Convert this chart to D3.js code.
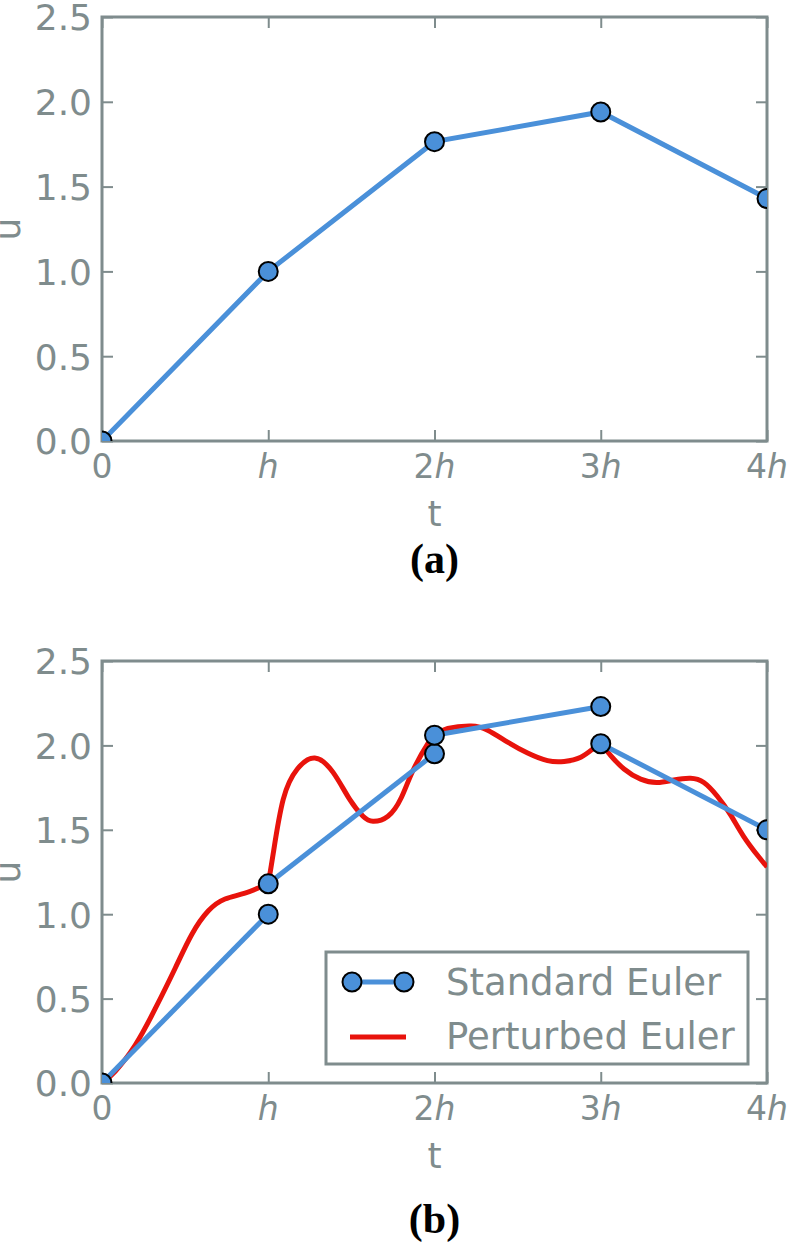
<!DOCTYPE html>
<html>
<head>
  <meta charset="utf-8">
  <title>Standard and perturbed Euler</title>
  <script src="https://d3js.org/d3.v7.min.js"></script>
  <style>
    body { margin: 0; background: #fff; }
    text { font-family: "DejaVu Sans", sans-serif; }
    text.caption { font-family: "Liberation Serif", "Times New Roman", serif; font-weight: bold; }
  </style>
</head>
<body>
  <svg id="chart"></svg>

  <script>
    // Data
    const stepLabels = ["0", "h", "2h", "3h", "4h"];
    const steps = [0, 1, 2, 3, 4];
    const yTicks = [0.0, 0.5, 1.0, 1.5, 2.0, 2.5];

    // panel (a): plain Euler
    const eulerA = [0, 1.0, 1.765, 1.94, 1.43];

    // panel (b): Euler steps started from the perturbed value
    const stepStartT = [0, 1, 2, 3];
    const stepStartU = [0, 1.18, 2.06, 2.01];
    const stepEndU = [1.0, 1.95, 2.23, 1.50];

    // panel (b): perturbed solution
    const perturbedT = [0, 0.08, 0.2, 0.32, 0.44, 0.54, 0.64, 0.74, 0.86, 1.0,
      1.0, 1.03, 1.09, 1.175, 1.28, 1.39, 1.49, 1.57, 1.63, 1.72, 1.8, 1.87, 1.96, 2.0,
      2.0, 2.08, 2.22, 2.32, 2.44, 2.56, 2.68, 2.78, 2.88, 2.96, 3.0,
      3.0, 3.06, 3.14, 3.24, 3.34, 3.44, 3.54, 3.62, 3.7, 3.78, 3.86, 3.95, 4.0];
    const perturbedU = [0, 0.07, 0.225, 0.44, 0.68, 0.88, 1.02, 1.09, 1.125, 1.18,
      1.18, 1.36, 1.68, 1.86, 1.925, 1.84, 1.68, 1.58, 1.55, 1.58, 1.69, 1.85, 2.01, 2.06,
      2.06, 2.1, 2.115, 2.09, 2.02, 1.955, 1.91, 1.905, 1.93, 1.985, 2.01,
      2.01, 1.94, 1.86, 1.80, 1.78, 1.795, 1.805, 1.78, 1.70, 1.59, 1.46, 1.34, 1.28];

    const gray = "#7f8c8d";
    const blue = "#4a90d9";
    const red = "#e8130c";

    const svg = d3.select("#chart")
      .attr("width", 790)
      .attr("height", 1243);

    const x = d3.scaleLinear().domain([0, 4]).range([102, 767]);

    function panel(top, bottom, id, caption, captionY) {
      const y = d3.scaleLinear().domain([0, 2.5]).range([bottom, top]);
      const g = svg.append("g");

      g.append("clipPath").attr("id", id)
        .append("rect")
        .attr("x", x(0)).attr("y", top)
        .attr("width", x(4) - x(0)).attr("height", bottom - top);

      // ticks on all four sides, pointing inward
      const axes = [
        [d3.axisBottom(x).tickValues(steps).tickSize(-11), `translate(0,${bottom})`],
        [d3.axisTop(x).tickValues(steps).tickSize(-11), `translate(0,${top})`],
        [d3.axisLeft(y).tickValues(yTicks).tickSize(-11), `translate(${x(0)},0)`],
        [d3.axisRight(y).tickValues(yTicks).tickSize(-11), `translate(${x(4)},0)`]
      ];
      axes.forEach(([ax, tr]) => {
        const a = g.append("g").attr("transform", tr).call(ax.tickFormat(""));
        a.select(".domain").remove();
        a.selectAll("line").attr("stroke", gray).attr("stroke-width", 2);
      });

      // y tick labels
      g.selectAll(".ylab")
        .data(yTicks)
        .enter()
        .append("text")
        .attr("x", 92)
        .attr("y", (d) => y(d))
        .attr("dy", "0.37em")
        .attr("text-anchor", "end")
        .attr("font-size", 36)
        .attr("fill", gray)
        .text((d) => d.toFixed(1));

      // x tick labels with italic h
      const xl = g.selectAll(".xlab")
        .data(stepLabels)
        .enter()
        .append("text")
        .attr("x", (d, i) => x(steps[i]))
        .attr("y", bottom + 37)
        .attr("text-anchor", "middle")
        .attr("font-size", 33)
        .attr("fill", gray);
      xl.append("tspan").text((d) => d.replace("h", ""));
      xl.append("tspan").attr("font-style", "italic").text((d) => d.includes("h") ? "h" : "");

      // axis titles
      g.append("text")
        .attr("x", x(2))
        .attr("y", bottom + 85)
        .attr("text-anchor", "middle")
        .attr("font-size", 36)
        .attr("fill", gray)
        .text("t");
      g.append("text")
        .attr("transform", `translate(20,${(top + bottom) / 2}) rotate(-90)`)
        .attr("text-anchor", "middle")
        .attr("font-size", 36)
        .attr("fill", gray)
        .text("u");

      // caption
      g.append("text")
        .attr("class", "caption")
        .attr("x", x(2))
        .attr("y", captionY)
        .attr("text-anchor", "middle")
        .attr("font-size", 42)
        .attr("fill", "#000")
        .text(caption);

      // frame
      g.append("rect")
        .attr("x", x(0)).attr("y", top)
        .attr("width", x(4) - x(0)).attr("height", bottom - top)
        .attr("fill", "none")
        .attr("stroke", gray)
        .attr("stroke-width", 3);

      const plot = g.append("g").attr("clip-path", `url(#${id})`);
      return { y, plot };
    }

    function markers(plot, pts, y) {
      plot.selectAll(null)
        .data(pts)
        .enter()
        .append("circle")
        .attr("cx", (d) => x(d[0]))
        .attr("cy", (d) => y(d[1]))
        .attr("r", 9.5)
        .attr("fill", blue)
        .attr("stroke", "#000")
        .attr("stroke-width", 2);
    }

    // ---- panel (a)
    const pa = panel(17, 441, "clipA", "(a)", 573);
    const ptsA = steps.map((t, i) => [t, eulerA[i]]);
    pa.plot.append("path")
      .datum(ptsA)
      .attr("d", d3.line().x((d) => x(d[0])).y((d) => pa.y(d[1])))
      .attr("fill", "none")
      .attr("stroke", blue)
      .attr("stroke-width", 5);
    markers(pa.plot, ptsA, pa.y);

    // ---- panel (b)
    const pb = panel(661, 1083, "clipB", "(b)", 1233);
    const redLine = d3.line()
      .x((d) => x(d[0]))
      .y((d) => pb.y(d[1]))
      .curve(d3.curveNatural);

    // split perturbed curve at each step, it has a corner there
    const perturbed = perturbedT.map((t, i) => [t, perturbedU[i]]);
    const pieces = [];
    perturbed.forEach((p, i) => {
      if (i === 0 || (p[0] === perturbed[i - 1][0])) pieces.push([]);
      pieces[pieces.length - 1].push(p);
    });
    pieces.forEach((seg) => {
      pb.plot.append("path")
        .datum(seg)
        .attr("d", redLine)
        .attr("fill", "none")
        .attr("stroke", red)
        .attr("stroke-width", 5);
    });

    const segsB = stepStartT.map((t, i) => [[t, stepStartU[i]], [t + 1, stepEndU[i]]]);
    segsB.forEach((seg) => {
      pb.plot.append("path")
        .datum(seg)
        .attr("d", d3.line().x((d) => x(d[0])).y((d) => pb.y(d[1])))
        .attr("fill", "none")
        .attr("stroke", blue)
        .attr("stroke-width", 5);
    });
    markers(pb.plot, segsB.flat(), pb.y);

    // legend
    const lg = svg.append("g");
    lg.append("rect")
      .attr("x", 326).attr("y", 952)
      .attr("width", 422).attr("height", 112)
      .attr("fill", "#fff")
      .attr("stroke", gray)
      .attr("stroke-width", 3);
    lg.append("line")
      .attr("x1", 352).attr("x2", 404).attr("y1", 982).attr("y2", 982)
      .attr("stroke", blue).attr("stroke-width", 5);
    [352, 404].forEach((cx) => {
      lg.append("circle")
        .attr("cx", cx).attr("cy", 982).attr("r", 9.5)
        .attr("fill", blue).attr("stroke", "#000").attr("stroke-width", 2);
    });
    lg.append("line")
      .attr("x1", 350).attr("x2", 406).attr("y1", 1037).attr("y2", 1037)
      .attr("stroke", red).attr("stroke-width", 5);
    lg.selectAll(".lt")
      .data(["Standard Euler", "Perturbed Euler"])
      .enter()
      .append("text")
      .attr("x", 446)
      .attr("y", (d, i) => 995 + i * 54)
      .attr("font-size", 37)
      .attr("fill", gray)
      .text((d) => d);
  </script>
</body>
</html>
